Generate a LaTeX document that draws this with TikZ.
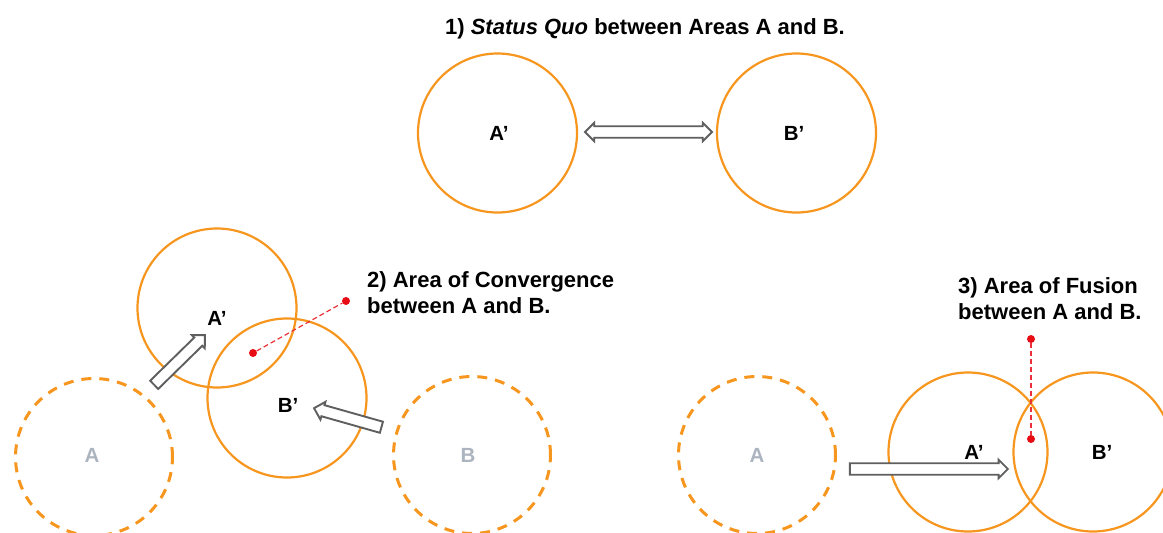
\documentclass[tikz,border=0pt]{standalone}
\usepackage{fontspec}
\setmainfont{Liberation Sans}
\usetikzlibrary{shapes.arrows}
\definecolor{orng}{RGB}{247,150,30}
\definecolor{arrgray}{RGB}{95,95,95}
\definecolor{ghost}{RGB}{172,180,192}
\definecolor{dotred}{RGB}{232,12,20}
\begin{document}
\begin{tikzpicture}[x=1pt,y=-1pt,
  area/.style={circle, draw=orng, line width=2.2pt, minimum size=159pt, inner sep=0pt},
  oldarea/.style={circle, draw=orng, line width=3pt, dash pattern=on 10pt off 8pt, minimum size=157pt, inner sep=0pt},
  hollow/.style={single arrow, draw=arrgray, fill=white, line width=1.9pt, inner xsep=0pt, inner ysep=4.8pt,
     single arrow head extend=3.5pt, single arrow head indent=0pt, single arrow tip angle=90},
  hollowtwo/.style={double arrow, draw=arrgray, fill=white, line width=1.9pt, inner xsep=0pt, inner ysep=4.8pt,
     double arrow head extend=3.5pt, double arrow head indent=0pt, double arrow tip angle=90},
  lbl/.style={font=\bfseries\fontsize{20.5}{24}\selectfont, text=black, inner sep=0pt},
  oldlbl/.style={lbl, text=ghost},
  caption/.style={font=\bfseries\fontsize{22}{26}\selectfont, align=left, inner sep=0pt},
  dot/.style={circle, fill=dotred, minimum size=8pt, inner sep=0pt},
  redline/.style={draw=dotred!85, line width=1.2pt, dash pattern=on 5pt off 3pt}
]
\useasboundingbox (0,0) rectangle (1163,533);
\clip (0,0) rectangle (1163,533);

% 1) status quo
\node[caption, anchor=center] (t1) at (645,29) {1) \textit{Status Quo} between Areas A and B.};
\node[area] (qa) at (497.5,133) {};
\node[area] (qb) at (796.5,133) {};
\node[lbl] (qal) at (499,133) {A’};
\node[lbl] (qbl) at (794,133) {B’};
\node[hollowtwo, minimum height=127pt] (qarr) at (648.5,132) {};

% 2) convergence
\node[oldarea] (ca) at (94,457) {};
\node[oldarea] (cb) at (472,455) {};
\node[oldlbl] (cal) at (92,455) {A};
\node[oldlbl] (cbl) at (468,455) {B};
\node[area] (cna) at (217,308) {};
\node[area] (cnb) at (287,398) {};
\node[lbl] (cnal) at (217,318) {A’};
\node[lbl] (cnbl) at (288,405) {B’};
\node[hollow, minimum height=71pt, rotate=44.4] (carr1) at (177.5,362) {};
\node[hollow, minimum height=70pt, rotate=164.2] (carr2) at (350.5,418.5) {};
\node[dot] (cd1) at (253,353) {};
\node[dot] (cd2) at (346,301) {};
\draw[redline] (cd1) -- (cd2);
\node[caption, anchor=west] (t2) at (367,293) {2) Area of Convergence\\between A and B.};

% 3) fusion
\node[oldarea] (fa) at (757,455) {};
\node[area] (fna) at (968,452) {};
\node[area] (fnb) at (1093,452) {};
\node[oldlbl] (fal) at (757,455) {A};
\node[lbl] (fnal) at (974,452) {A’};
\node[lbl] (fnbl) at (1102,452) {B’};
\node[hollow, minimum height=158pt] (farr) at (926,469) {};
\node[dot] (fd1) at (1031,339) {};
\node[dot] (fd2) at (1031,439) {};
\draw[redline] (fd1) -- (fd2);
\node[caption, anchor=west] (t3) at (958,299) {3) Area of Fusion\\between A and B.};
\end{tikzpicture}
\end{document}
